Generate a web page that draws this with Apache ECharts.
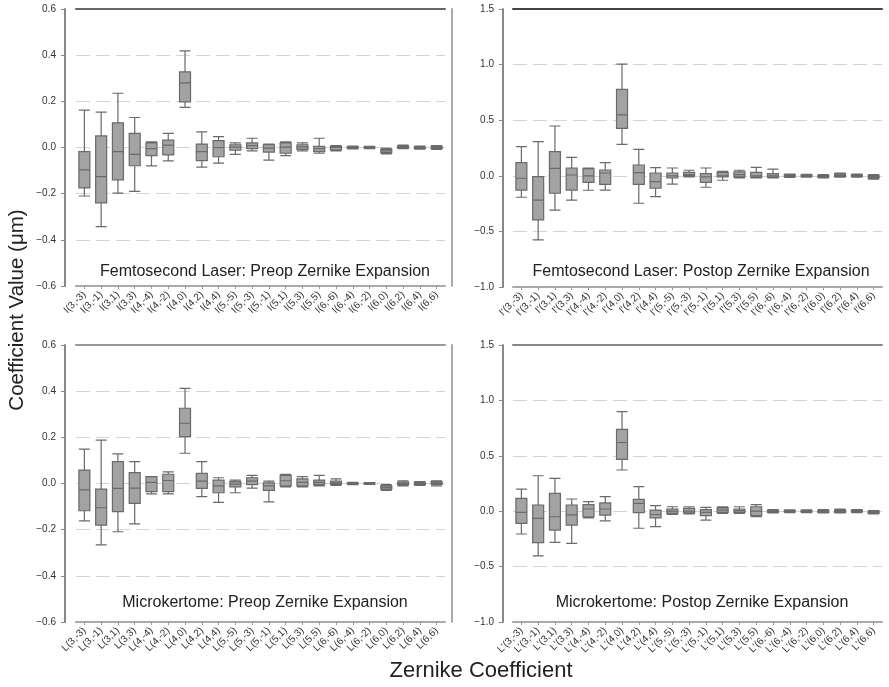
<!DOCTYPE html>
<html>
<head>
<meta charset="utf-8">
<script src="https://cdn.jsdelivr.net/npm/echarts@6/dist/echarts.min.js"></script>
<style>html,body{margin:0;padding:0;background:#fff}#c{width:889px;height:687px}</style>
</head>
<body>
<div id="c"></div>
<script>
// Zernike indices (shared by all panels)
const zernikeIdx = ['(3,-3)','(3,-1)','(3,1)','(3,3)','(4,-4)','(4,-2)','(4,0)','(4,2)','(4,4)',
  '(5,-5)','(5,-3)','(5,-1)','(5,1)','(5,3)','(5,5)','(6,-6)','(6,-4)','(6,-2)','(6,0)','(6,2)','(6,4)','(6,6)'];
const labelPrefixes = ['I', "I'", 'L', "L'"];
const panelTitles = [
  'Femtosecond Laser: Preop Zernike Expansion',
  'Femtosecond Laser: Postop Zernike Expansion',
  'Microkertome: Preop Zernike Expansion',
  'Microkertome: Postop Zernike Expansion'
];
const yName = 'Coefficient Value (\u03bcm)';
const xName = 'Zernike Coefficient';
// y-axis ranges per panel [min, max, interval]
const preopRange = [-0.6, 0.6, 0.2];
const postopRange = [-1.0, 1.5, 0.5];

// box stats: [min, Q1, median, Q3, max]
const femtoPreop = [
  [-0.21,-0.175,-0.097,-0.018,0.162],
  [-0.343,-0.24,-0.126,0.05,0.153],
  [-0.198,-0.14,-0.018,0.107,0.235],
  [-0.19,-0.079,-0.03,0.061,0.13],
  [-0.08,-0.035,-0.005,0.02,0.025],
  [-0.058,-0.032,0.01,0.032,0.061],
  [0.174,0.198,0.28,0.328,0.419],
  [-0.085,-0.057,-0.018,0.015,0.068],
  [-0.068,-0.04,0.0,0.03,0.047],
  [-0.03,-0.012,0.002,0.012,0.02],
  [-0.015,-0.005,0.008,0.02,0.04],
  [-0.055,-0.02,-0.003,0.012,0.015],
  [-0.035,-0.025,0.002,0.02,0.025],
  [-0.015,-0.008,0.003,0.012,0.02],
  [-0.025,-0.018,-0.005,0.005,0.04],
  [-0.015,-0.01,0.0,0.005,0.008],
  [-0.006,-0.003,0.0,0.003,0.006],
  [-0.005,-0.002,0.0,0.002,0.005],
  [-0.028,-0.022,-0.015,-0.008,-0.004],
  [-0.005,-0.002,0.003,0.006,0.01],
  [-0.007,-0.004,0.0,0.003,0.006],
  [-0.008,-0.004,0.001,0.005,0.008]
];
const femtoPostop = [
  [-0.193,-0.128,-0.022,0.118,0.262],
  [-0.577,-0.397,-0.218,-0.008,0.307],
  [-0.308,-0.157,0.067,0.217,0.448],
  [-0.218,-0.128,0.007,0.07,0.166],
  [-0.13,-0.06,0.0,0.065,0.07],
  [-0.128,-0.077,0.025,0.052,0.118],
  [0.283,0.427,0.547,0.778,1.005],
  [-0.247,-0.077,0.028,0.097,0.238],
  [-0.188,-0.112,-0.053,0.025,0.073],
  [-0.075,-0.02,0.0,0.025,0.07],
  [-0.01,0.0,0.01,0.03,0.05],
  [-0.103,-0.06,-0.01,0.02,0.07],
  [-0.04,-0.01,0.005,0.03,0.04],
  [-0.02,-0.01,0.01,0.035,0.05],
  [-0.02,-0.015,0.0,0.03,0.075],
  [-0.02,-0.015,0.0,0.02,0.06],
  [-0.015,-0.008,0.0,0.008,0.015],
  [-0.012,-0.006,0.0,0.006,0.012],
  [-0.02,-0.012,-0.005,0.005,0.01],
  [-0.012,-0.005,0.005,0.018,0.025],
  [-0.012,-0.006,0.0,0.008,0.015],
  [-0.03,-0.02,-0.01,0.002,0.01]
];
const microPreop = [
  [-0.162,-0.118,-0.028,0.058,0.149],
  [-0.266,-0.18,-0.105,-0.024,0.188],
  [-0.209,-0.122,-0.021,0.095,0.128],
  [-0.175,-0.086,-0.02,0.047,0.095],
  [-0.045,-0.035,0.005,0.03,0.03],
  [-0.045,-0.035,0.013,0.04,0.05],
  [0.131,0.203,0.261,0.326,0.412],
  [-0.057,-0.021,0.01,0.044,0.095],
  [-0.082,-0.04,-0.01,0.015,0.025],
  [-0.04,-0.015,-0.003,0.008,0.015],
  [-0.02,-0.005,0.01,0.025,0.035],
  [-0.08,-0.03,-0.01,0.003,0.01],
  [-0.015,-0.01,0.012,0.035,0.04],
  [-0.015,-0.01,0.005,0.02,0.03],
  [-0.01,-0.005,0.005,0.015,0.035],
  [-0.008,-0.003,0.003,0.01,0.02],
  [-0.005,-0.002,0.0,0.002,0.005],
  [-0.004,-0.002,0.0,0.002,0.004],
  [-0.03,-0.025,-0.018,-0.01,-0.005],
  [-0.01,-0.005,0.0,0.006,0.012],
  [-0.008,-0.004,0.0,0.004,0.008],
  [-0.01,-0.004,0.002,0.008,0.012]
];
const microPostop = [
  [-0.206,-0.11,-0.01,0.116,0.2],
  [-0.404,-0.284,-0.065,0.056,0.32],
  [-0.281,-0.17,-0.05,0.161,0.297],
  [-0.29,-0.125,-0.034,0.056,0.11],
  [-0.06,-0.05,0.02,0.06,0.086],
  [-0.088,-0.035,0.02,0.075,0.131],
  [0.372,0.468,0.62,0.739,0.898],
  [-0.154,-0.013,0.071,0.107,0.221],
  [-0.14,-0.06,-0.03,0.01,0.05],
  [-0.03,-0.02,0.0,0.02,0.04],
  [-0.025,-0.015,0.0,0.025,0.04],
  [-0.08,-0.04,-0.01,0.015,0.035],
  [-0.02,-0.01,0.01,0.03,0.04],
  [-0.02,-0.01,0.005,0.02,0.04],
  [-0.05,-0.04,0.0,0.04,0.06],
  [-0.015,-0.01,0.0,0.008,0.015],
  [-0.012,-0.006,0.0,0.006,0.012],
  [-0.012,-0.006,0.0,0.006,0.012],
  [-0.015,-0.01,0.0,0.008,0.015],
  [-0.015,-0.01,0.0,0.01,0.018],
  [-0.012,-0.006,0.002,0.008,0.015],
  [-0.025,-0.02,-0.01,0.0,0.005]
];
const panelData = [femtoPreop, femtoPostop, microPreop, microPostop];
const panelRanges = [preopRange, postopRange, preopRange, postopRange];

const FONT = 'Liberation Sans, Arial, Helvetica, sans-serif';
const grids = [
  {left: 76, top: 9, width: 369, height: 277},
  {left: 513, top: 9, width: 369, height: 278},
  {left: 76, top: 345, width: 369, height: 277},
  {left: 513, top: 345, width: 369, height: 277}
];
const yOffsets = [11, 10, 11, 10];
const topLineColors = ['#666', '#444', '#999', '#888'];
const titlePos = [[260, 259], [696, 259], [260, 590], [697, 590]];

const fmt = v => {
  const s = Math.abs(v) < 1e-9 ? '0.0' : v.toFixed(1);
  return s.replace('-', '\u2212');
};

const xAxes = [], yAxes = [], series = [], titles = [];
for (let i = 0; i < 4; i++) {
  const cats = zernikeIdx.map(z => labelPrefixes[i] + z);
  xAxes.push({
    type: 'category', gridIndex: i, data: cats, boundaryGap: true, position: 'bottom',
    axisLine: {onZero: false, lineStyle: {color: '#aaa', width: 2}},
    axisTick: {show: true, alignWithLabel: true, length: 3, lineStyle: {color: '#999'}},
    axisLabel: {rotate: 45, fontSize: 10, color: '#333', fontFamily: FONT, margin: 7, interval: 0},
    splitLine: {show: false}
  });
  xAxes.push({
    type: 'category', gridIndex: i, data: cats, position: 'top',
    axisLine: {onZero: false, lineStyle: {color: topLineColors[i], width: 2}},
    axisTick: {show: false}, axisLabel: {show: false}, splitLine: {show: false}
  });
  const r = panelRanges[i];
  yAxes.push({
    type: 'value', gridIndex: i, min: r[0], max: r[1], interval: r[2],
    offset: yOffsets[i], position: 'left',
    axisLine: {show: true, onZero: false, lineStyle: {color: '#888', width: 2}},
    axisTick: {show: true, length: 4, lineStyle: {color: '#888'}},
    axisLabel: {formatter: fmt, fontSize: 10, color: '#333', fontFamily: FONT, margin: 9},
    splitLine: {show: true, lineStyle: {color: '#d4d4d4', type: [14, 6], width: 1}}
  });
  if (i === 0 || i === 2) {
    yAxes.push({
      type: 'value', gridIndex: i, min: r[0], max: r[1], position: 'right', offset: 7,
      axisLine: {show: true, onZero: false, lineStyle: {color: '#aaa', width: 2}},
      axisTick: {show: false}, axisLabel: {show: false}, splitLine: {show: false}
    });
  }
  titles.push({
    text: panelTitles[i], left: titlePos[i][0], top: titlePos[i][1], textAlign: 'center',
    textStyle: {fontSize: 16, fontWeight: 'normal', color: '#222', fontFamily: FONT}
  });
}
const yIdx = [0, 2, 3, 5];
for (let i = 0; i < 4; i++) {
  series.push({
    type: 'boxplot', xAxisIndex: i * 2, yAxisIndex: yIdx[i],
    data: panelData[i],
    boxWidth: [11, 11],
    itemStyle: {color: '#a3a3a3', borderColor: '#6a6a6a', borderWidth: 1.2},
    emphasis: {disabled: true},
    silent: true
  });
}

const chart = echarts.init(document.getElementById('c'), null, {renderer: 'canvas'});
chart.setOption({
  animation: false,
  backgroundColor: '#fff',
  grid: grids,
  xAxis: xAxes,
  yAxis: yAxes,
  series: series,
  title: titles,
  graphic: [
    {type: 'text', x: 481, y: 671,
     style: {text: xName, font: '22px ' + FONT, fill: '#222', align: 'center', verticalAlign: 'middle'}},
    {type: 'text', x: 17, y: 310, rotation: Math.PI / 2,
     style: {text: yName, font: '20.5px ' + FONT, fill: '#222', align: 'center', verticalAlign: 'middle'}}
  ]
});
</script>
</body>
</html>
